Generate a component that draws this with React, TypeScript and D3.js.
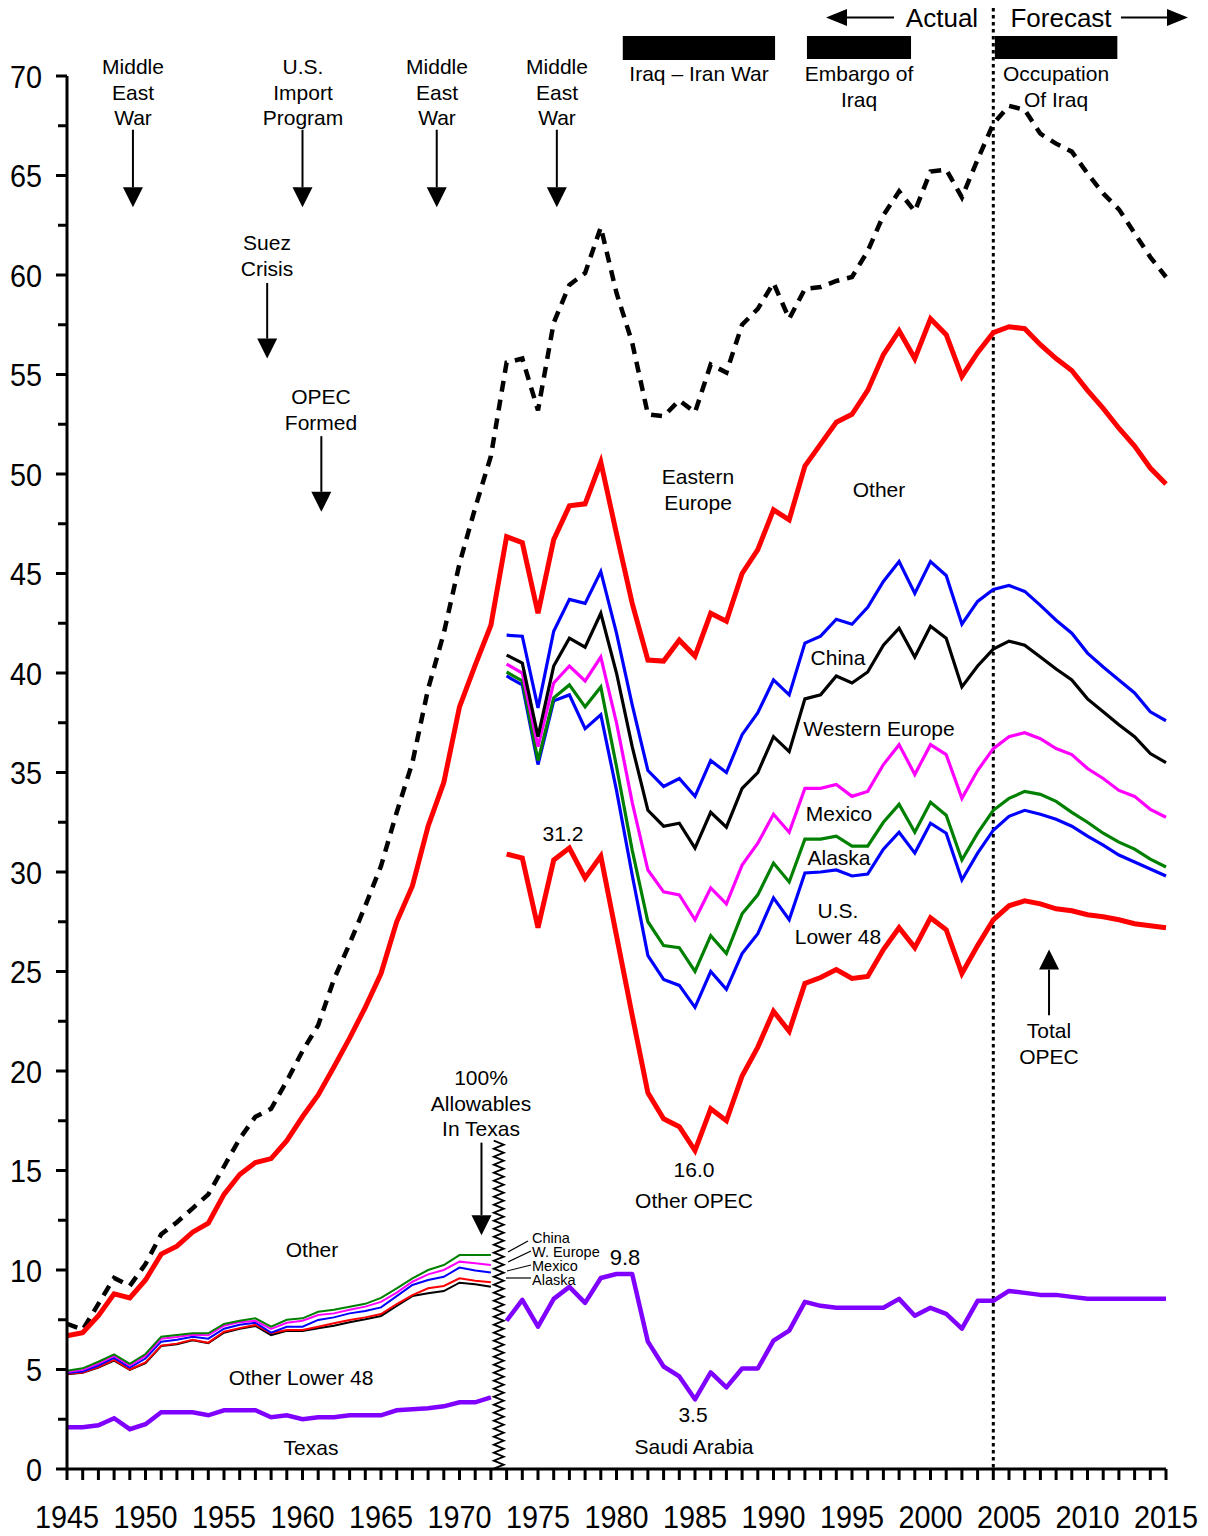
import React from 'react';
import * as d3 from 'd3';

// ---------- data (million barrels/day) ----------
const yearsAll = d3.range(1945, 2016);
const yearsEarly = d3.range(1945, 1973);
const yearsLate = d3.range(1973, 2016);

const demand = [
  7.3, 7.0, 8.3, 9.6, 9.2, 10.3, 11.8, 12.4, 13.1, 13.8, 15.2, 16.6, 17.7, 18.1, 19.5, 21.0, 22.3, 24.6, 26.4,
  28.3, 30.3, 33.0, 35.5, 39.2, 42.0, 45.5, 48.3, 50.9, 55.6, 55.8, 53.2, 57.6, 59.5, 60.1, 62.4, 59.1, 56.6,
  53.0, 52.9, 53.7, 53.1, 55.5, 55.1, 57.5, 58.3, 59.6, 57.8, 59.3, 59.4, 59.7, 59.9, 61.2, 63.0, 64.2, 63.2,
  65.2, 65.3, 63.9, 65.8, 67.6, 68.5, 68.3, 67.1, 66.6, 66.2, 65.1, 64.1, 63.3, 62.1, 60.9, 59.9,
];

const otherTop = [
  6.7, 6.85, 7.7, 8.8, 8.6, 9.5, 10.8, 11.2, 11.9, 12.35, 13.8, 14.8, 15.4, 15.6, 16.5, 17.7, 18.8, 20.2, 21.65,
  23.2, 24.9, 27.5, 29.3, 32.3, 34.5, 38.3, 40.4, 42.4, 46.85, 46.55, 43.0, 46.7, 48.4, 48.5, 50.6, 47.0, 43.5,
  40.65, 40.6, 41.65, 40.85, 43.0, 42.6, 45.0, 46.2, 48.2, 47.7, 50.4, 51.5, 52.6, 53.0, 54.2, 56.0, 57.2, 55.8,
  57.8, 57.0, 54.9, 56.1, 57.1, 57.4, 57.3, 56.5, 55.8, 55.2, 54.2, 53.3, 52.3, 51.4, 50.3, 49.5,
];

// 1945-1972 stack
const earlyChina = [
  4.94, 5.06, 5.39, 5.76, 5.28, 5.78, 6.65, 6.73, 6.82, 6.82, 7.29, 7.45, 7.57, 7.15, 7.5, 7.57, 7.9, 8.0, 8.15,
  8.3, 8.6, 9.08, 9.58, 10.0, 10.25, 10.75, 10.75, 10.75,
];
const earlyWEurope = [
  4.88, 4.98, 5.3, 5.68, 5.2, 5.68, 6.55, 6.63, 6.75, 6.72, 7.2, 7.38, 7.45, 7.04, 7.35, 7.45, 7.74, 7.82, 8.0,
  8.16, 8.4, 8.86, 9.41, 9.78, 10.0, 10.42, 10.34, 10.25,
];
const earlyMexico = [
  4.82, 4.9, 5.2, 5.58, 5.1, 5.55, 6.4, 6.5, 6.65, 6.55, 7.05, 7.25, 7.35, 6.85, 7.15, 7.15, 7.49, 7.62, 7.82,
  7.94, 8.12, 8.69, 9.25, 9.5, 9.66, 10.12, 9.97, 9.88,
];
const earlyAlaska = [
  4.78, 4.85, 5.12, 5.48, 5.0, 5.35, 6.2, 6.3, 6.5, 6.35, 6.9, 7.08, 7.24, 6.82, 6.98, 6.98, 7.15, 7.32, 7.49,
  7.62, 7.79, 8.29, 8.74, 9.08, 9.2, 9.58, 9.46, 9.38,
];
const earlyLower48 = [
  4.76, 4.83, 5.1, 5.45, 4.98, 5.32, 6.18, 6.27, 6.47, 6.32, 6.85, 7.05, 7.19, 6.73, 6.95, 6.93, 7.07, 7.2, 7.37,
  7.52, 7.69, 8.19, 8.69, 8.83, 8.94, 9.36, 9.28, 9.16,
];
const texas = [
  2.1, 2.1, 2.2, 2.55, 2.0, 2.25, 2.85, 2.85, 2.85, 2.7, 2.95, 2.95, 2.95, 2.6, 2.7, 2.5, 2.6, 2.6, 2.7, 2.7,
  2.7, 2.95, 3.0, 3.05, 3.15, 3.35, 3.35, 3.6,
];

// 1973-2015 stack
const easternEurope = [
  41.9, 41.85, 38.25, 42.1, 43.7, 43.5, 45.1, 42.0, 38.4, 35.1, 34.3, 34.7, 33.8, 35.6, 35.0, 36.9, 38.0, 39.65,
  38.9, 41.5, 41.85, 42.7, 42.45, 43.3, 44.6, 45.6, 44.0, 45.6, 44.9, 42.45, 43.6, 44.2, 44.4, 44.1, 43.4,
  42.65, 42.0, 41.0, 40.3, 39.65, 39.0, 38.05, 37.6,
];
const china = [
  40.9, 40.5, 36.8, 40.35, 41.75, 41.3, 43.0, 40.0, 36.3, 33.1, 32.3, 32.45, 31.2, 33.0, 32.25, 34.2, 35.0, 36.8,
  36.05, 38.7, 38.9, 39.85, 39.5, 40.05, 41.4, 42.25, 40.8, 42.35, 41.75, 39.3, 40.35, 41.2, 41.6, 41.4, 40.8,
  40.2, 39.65, 38.7, 38.05, 37.4, 36.8, 35.95, 35.5,
];
const westernEurope = [
  40.45, 40.0, 36.3, 39.5, 40.35, 39.6, 40.8, 37.5, 33.5, 30.1, 29.0, 28.85, 27.6, 29.2, 28.4, 30.35, 31.45, 32.9,
  32.0, 34.2, 34.2, 34.4, 33.8, 34.05, 35.4, 36.4, 34.9, 36.4, 35.9, 33.7, 35.1, 36.2, 36.8, 37.0, 36.7, 36.2,
  35.9, 35.2, 34.7, 34.1, 33.8, 33.15, 32.75,
];
const mexico = [
  40.05, 39.6, 35.6, 38.75, 39.4, 38.3, 39.3, 35.3, 31.1, 27.5, 26.3, 26.2, 25.0, 26.8, 25.9, 27.9, 28.85, 30.45,
  29.5, 31.65, 31.65, 31.8, 31.3, 31.3, 32.5, 33.4, 32.0, 33.5, 32.85, 30.6, 31.95, 33.1, 33.7, 34.05, 33.9,
  33.55, 33.0, 32.5, 31.95, 31.5, 31.15, 30.65, 30.25,
];
const alaska = [
  39.85, 39.4, 35.4, 38.6, 38.9, 37.2, 37.9, 34.1, 29.85, 25.8, 24.6, 24.3, 23.2, 25.0, 24.1, 25.9, 26.9, 28.7,
  27.6, 29.95, 30.0, 30.1, 29.8, 29.9, 31.15, 32.0, 30.95, 32.45, 31.95, 29.6, 30.95, 32.1, 32.8, 33.1, 32.9,
  32.65, 32.3, 31.8, 31.35, 30.85, 30.5, 30.15, 29.8,
];
const totalOpec = [
  30.9, 30.7, 27.2, 30.6, 31.2, 29.7, 30.8, 26.8, 22.8, 18.9, 17.6, 17.2, 16.0, 18.1, 17.5, 19.75, 21.2, 23.0,
  22.0, 24.4, 24.7, 25.1, 24.65, 24.75, 26.1, 27.2, 26.2, 27.7, 27.1, 24.9, 26.3, 27.6, 28.3, 28.55, 28.4, 28.15,
  28.05, 27.85, 27.75, 27.6, 27.4, 27.3, 27.2,
];
const saudiArabia = [
  7.45, 8.5, 7.15, 8.55, 9.15, 8.35, 9.6, 9.8, 9.8, 6.4, 5.15, 4.65, 3.5, 4.85, 4.1, 5.05, 5.05, 6.45, 6.95, 8.4,
  8.2, 8.1, 8.1, 8.1, 8.1, 8.55, 7.7, 8.1, 7.8, 7.05, 8.45, 8.45, 8.95, 8.85, 8.75, 8.75, 8.65, 8.55, 8.55, 8.55,
  8.55, 8.55, 8.55,
];

const yTicks = d3.range(0, 71, 5);
const yMinor = d3.range(2.5, 70, 5);
const xLabels = d3.range(1945, 2016, 5);

const RED = '#FF0000';
const BLUE = '#0000FF';
const GREEN = '#008000';
const MAGENTA = '#FF00FF';
const PURPLE = '#8000FF';
const FONT = '"Liberation Sans", Arial, sans-serif';

const W = 1208;
const H = 1536;

const x = d3.scaleLinear().domain([1945, 2015]).range([67, 1166]);
const y = d3.scaleLinear().domain([0, 70]).range([1469, 76]);

const pathFor = (years: number[], values: number[]) =>
  d3
    .line<number>()
    .x((_, i) => x(years[i]))
    .y(d => y(d))(values) || '';

// arrow drawn in data units (year, value)
const Arrow: React.FC<{ yr: number; from: number; to: number }> = ({ yr, from, to }) => {
  const cx = x(yr);
  const y1 = y(from);
  const y2 = y(to);
  const dir = y2 > y1 ? 1 : -1;
  const base = y2 - dir * 20;
  return (
    <g>
      <line x1={cx} x2={cx} y1={y1} y2={base} stroke="#000" strokeWidth={2} />
      <path d={`M${cx - 10},${base} L${cx + 10},${base} L${cx},${y2} Z`} fill="#000" />
    </g>
  );
};

const Label: React.FC<{ x: number; y: number; lines: string[]; size?: number; lh?: number; anchor?: string }> = ({
  x: lx,
  y: ly,
  lines,
  size = 21,
  lh = 25.5,
  anchor = 'middle',
}) => (
  <text x={lx} y={ly} fontSize={size} textAnchor={anchor as any} fontFamily={FONT} fill="#000">
    {lines.map((l, i) => (
      <tspan key={i} x={lx} dy={i === 0 ? 0 : lh}>
        {l}
      </tspan>
    ))}
  </text>
);

const App: React.FC = () => {
  const forecastX = x(2004);
  const breakX = x(1972.5);

  // zigzag break marker at the 1972/1973 seam
  const zig: string[] = [];
  for (let yy = y(16.5), k = 0; yy <= y(0); yy += 4, k++) {
    zig.push(`${k === 0 ? 'M' : 'L'}${breakX + (k % 2 === 0 ? -5 : 5)},${yy}`);
  }

  return (
    <svg
      width={W}
      height={H}
      style={{ position: 'absolute', left: 0, top: 0, background: '#fff' }}
      fontFamily={FONT}
    >
      <rect width={W} height={H} fill="#fff" />

      {/* forecast divider */}
      <line x1={forecastX} x2={forecastX} y1={8} y2={y(0)} stroke="#000" strokeWidth={3} strokeDasharray="3.5,3.5" />

      {/* demand (dashed) */}
      <path d={pathFor(yearsAll, demand)} fill="none" stroke="#000" strokeWidth={4.5} strokeDasharray="11,8" />

      {/* early stack */}
      <path d={pathFor(yearsEarly, earlyLower48)} fill="none" stroke="#000" strokeWidth={2} />
      <path d={pathFor(yearsEarly, earlyAlaska)} fill="none" stroke={RED} strokeWidth={2} />
      <path d={pathFor(yearsEarly, earlyMexico)} fill="none" stroke={BLUE} strokeWidth={2} />
      <path d={pathFor(yearsEarly, earlyWEurope)} fill="none" stroke={MAGENTA} strokeWidth={2} />
      <path d={pathFor(yearsEarly, earlyChina)} fill="none" stroke={GREEN} strokeWidth={2} />
      <path d={pathFor(yearsEarly, texas)} fill="none" stroke={PURPLE} strokeWidth={4.5} />

      {/* late stack */}
      <path d={pathFor(yearsLate, saudiArabia)} fill="none" stroke={PURPLE} strokeWidth={4.5} strokeLinejoin="round" />
      <path d={pathFor(yearsLate, totalOpec)} fill="none" stroke={RED} strokeWidth={5} />
      <path d={pathFor(yearsLate, alaska)} fill="none" stroke={BLUE} strokeWidth={3.2} />
      <path d={pathFor(yearsLate, mexico)} fill="none" stroke={GREEN} strokeWidth={3.2} />
      <path d={pathFor(yearsLate, westernEurope)} fill="none" stroke={MAGENTA} strokeWidth={3.2} />
      <path d={pathFor(yearsLate, china)} fill="none" stroke="#000" strokeWidth={3.2} />
      <path d={pathFor(yearsLate, easternEurope)} fill="none" stroke={BLUE} strokeWidth={3.2} />

      {/* world total (other) */}
      <path d={pathFor(yearsAll, otherTop)} fill="none" stroke={RED} strokeWidth={5} />

      {/* break marker */}
      <path d={zig.join(' ')} fill="none" stroke="#000" strokeWidth={1.8} />

      {/* axes */}
      <line x1={x(1945)} x2={x(1945)} y1={y(70)} y2={y(0)} stroke="#000" strokeWidth={3} />
      <line x1={x(1945)} x2={x(2015)} y1={y(0)} y2={y(0)} stroke="#000" strokeWidth={3} />
      {yTicks.map(t => (
        <g key={`yt${t}`}>
          <line x1={x(1945) - 11} x2={x(1945)} y1={y(t)} y2={y(t)} stroke="#000" strokeWidth={3} />
          <text
            transform={`translate(42,${y(t) + 11.5}) scale(0.9,1)`}
            textAnchor="end"
            fontSize={32}
            fill="#000"
          >
            {t}
          </text>
        </g>
      ))}
      {yMinor.map(t => (
        <line key={`ym${t}`} x1={x(1945) - 9} x2={x(1945)} y1={y(t)} y2={y(t)} stroke="#000" strokeWidth={3} />
      ))}
      {yearsAll.map(yr => (
        <line key={`xt${yr}`} x1={x(yr)} x2={x(yr)} y1={y(0)} y2={y(0) + 11} stroke="#000" strokeWidth={3} />
      ))}
      {xLabels.map(yr => (
        <text
          key={`xl${yr}`}
          transform={`translate(${x(yr)},1528) scale(0.9,1)`}
          textAnchor="middle"
          fontSize={32}
          fill="#000"
        >
          {yr}
        </text>
      ))}

      {/* top annotations */}
      <Label x={133} y={74} lines={['Middle', 'East', 'War']} />
      <Arrow yr={1949.2} from={67.3} to={63.4} />
      <Label x={303} y={74} lines={['U.S.', 'Import', 'Program']} />
      <Arrow yr={1960} from={67.3} to={63.4} />
      <Label x={437} y={74} lines={['Middle', 'East', 'War']} />
      <Arrow yr={1968.55} from={67.3} to={63.4} />
      <Label x={557} y={74} lines={['Middle', 'East', 'War']} />
      <Arrow yr={1976.2} from={67.3} to={63.4} />
      <Label x={267} y={250} lines={['Suez', 'Crisis']} />
      <Arrow yr={1957.75} from={59.6} to={55.8} />
      <Label x={321} y={404} lines={['OPEC', 'Formed']} />
      <Arrow yr={1961.2} from={51.9} to={48.1} />

      {/* event bars */}
      <rect x={x(1980.4)} y={36} width={x(1990.1) - x(1980.4)} height={24} fill="#000" />
      <Label x={699} y={81} lines={['Iraq – Iran War']} />
      <rect x={x(1992.13)} y={36} width={x(1998.76) - x(1992.13)} height={23} fill="#000" />
      <Label x={859} y={81} lines={['Embargo of', 'Iraq']} />
      <rect x={x(2004.1)} y={36} width={x(2011.9) - x(2004.1)} height={23} fill="#000" />
      <Label x={1056} y={81} lines={['Occupation', 'Of Iraq']} />

      {/* actual / forecast */}
      <text x={942} y={27} fontSize={26} textAnchor="middle" fill="#000">
        Actual
      </text>
      <line x1={846} x2={894} y1={17.5} y2={17.5} stroke="#000" strokeWidth={2} />
      <path d="M826,17.5 L847,9 L847,26 Z" fill="#000" />
      <text x={1061} y={27} fontSize={26} textAnchor="middle" fill="#000">
        Forecast
      </text>
      <line x1={1121} x2={1168} y1={17.5} y2={17.5} stroke="#000" strokeWidth={2} />
      <path d="M1188,17.5 L1167,9 L1167,26 Z" fill="#000" />

      {/* series labels */}
      <Label x={879} y={497} lines={['Other']} />
      <Label x={698} y={484} lines={['Eastern', 'Europe']} />
      <Label x={838} y={665} lines={['China']} />
      <Label x={879} y={736} lines={['Western Europe']} />
      <Label x={839} y={821} lines={['Mexico']} />
      <Label x={839} y={865} lines={['Alaska']} />
      <Label x={838} y={918} lines={['U.S.', 'Lower 48']} lh={26} />
      <Label x={563} y={841} lines={['31.2']} />
      <Label x={694} y={1177} lines={['16.0']} />
      <Label x={694} y={1208} lines={['Other OPEC']} />
      <Label x={625} y={1265} lines={['9.8']} size={22} />
      <Label x={693} y={1422} lines={['3.5']} />
      <Label x={694} y={1454} lines={['Saudi Arabia']} />
      <Label x={1049} y={1038} lines={['Total', 'OPEC']} />
      <Arrow yr={2007.55} from={22.8} to={26.1} />
      <Label x={481} y={1085} lines={['100%', 'Allowables', 'In Texas']} />
      <Arrow yr={1971.4} from={16.4} to={11.75} />
      <Label x={312} y={1257} lines={['Other']} />
      <Label x={301} y={1385} lines={['Other Lower 48']} />
      <Label x={311} y={1455} lines={['Texas']} />

      {/* small labels for the 1972 stack */}
      <Label x={532} y={1243} lines={['China']} size={14.5} anchor="start" />
      <Label x={532} y={1257} lines={['W. Europe']} size={14.5} anchor="start" />
      <Label x={532} y={1271} lines={['Mexico']} size={14.5} anchor="start" />
      <Label x={532} y={1285} lines={['Alaska']} size={14.5} anchor="start" />
      <line x1={508} y1={1252} x2={528} y2={1241} stroke="#000" strokeWidth={1.2} />
      <line x1={508} y1={1262} x2={531} y2={1251} stroke="#000" strokeWidth={1.2} />
      <line x1={507} y1={1271} x2={531} y2={1265} stroke="#000" strokeWidth={1.2} />
      <line x1={506} y1={1278} x2={531} y2={1278} stroke="#000" strokeWidth={1.2} />
    </svg>
  );
};

export default App;
